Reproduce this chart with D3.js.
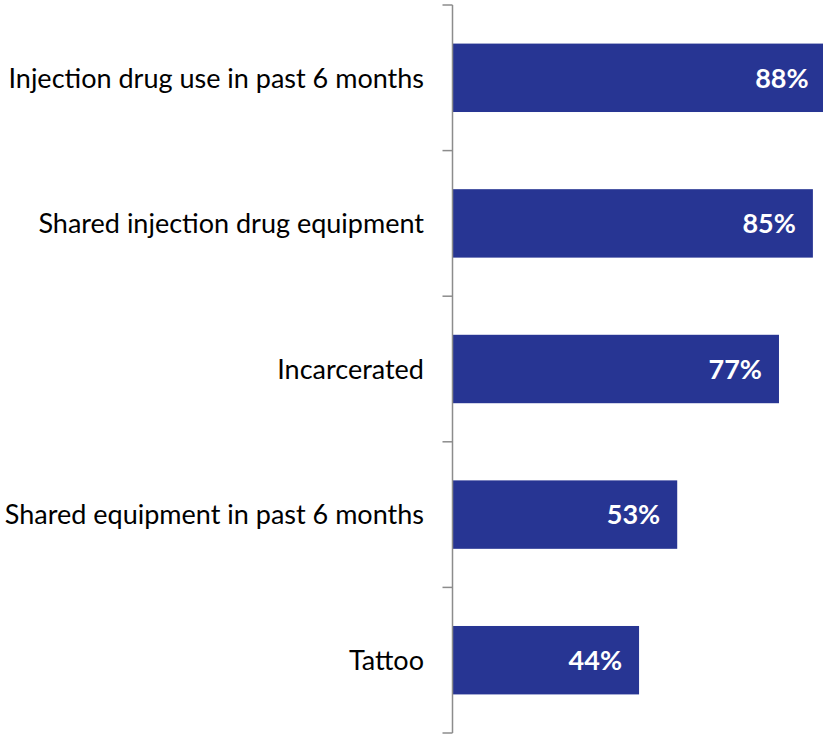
<!DOCTYPE html>
<html>
<head>
<meta charset="utf-8">
<script src="https://cdn.jsdelivr.net/npm/d3@7"></script>
<style>
  html, body { margin: 0; padding: 0; background: #fff; }
  svg { display: block; }
</style>
</head>
<body>
<svg id="chart" width="823" height="736"></svg>
<script>
// Risk factors and share of respondents (%)
const categories = [
  "Injection drug use in past 6 months",
  "Shared injection drug equipment",
  "Incarcerated",
  "Shared equipment in past 6 months",
  "Tattoo"
];
const values = [88, 85, 77, 53, 44];

const svg = d3.select("#chart");
const W = 823, H = 736;
const axisX = 452.5;

const y = d3.scaleBand()
  .domain(categories)
  .range([5, 733])
  .paddingInner(0.53)
  .paddingOuter(0.265);

const x = d3.scaleLinear()
  .domain([0, 100])
  .range([axisX, axisX + 424]);

// Bars
svg.append("g")
  .selectAll("rect")
  .data(categories)
  .join("rect")
  .attr("x", x(0))
  .attr("y", d => y(d))
  .attr("width", (d, i) => x(values[i]) - x(0))
  .attr("height", y.bandwidth())
  .attr("fill", "#273593");

// Value labels inside the bar ends
svg.append("g")
  .selectAll("text")
  .data(categories)
  .join("text")
  .attr("x", (d, i) => x(values[i]) - 17)
  .attr("y", d => y(d) + y.bandwidth() / 2)
  .attr("dy", "0.36em")
  .attr("text-anchor", "end")
  .attr("fill", "#ffffff")
  .style("font-family", "Lato, 'Open Sans', sans-serif")
  .style("font-weight", "bold")
  .style("font-size", "27px")
  .text((d, i) => values[i] + "%");

// Category axis with ticks at band boundaries
const step = y.step();
const boundaries = d3.range(categories.length + 1).map(i => 5 + i * step);
const axisG = svg.append("g");
axisG.append("line")
  .attr("x1", axisX).attr("x2", axisX)
  .attr("y1", boundaries[0]).attr("y2", boundaries[boundaries.length - 1])
  .attr("stroke", "#8c8c8c").attr("stroke-width", 1.5);
axisG.selectAll("line.tick")
  .data(boundaries)
  .join("line")
  .attr("class", "tick")
  .attr("x1", axisX - 10).attr("x2", axisX)
  .attr("y1", d => d).attr("y2", d => d)
  .attr("stroke", "#8c8c8c").attr("stroke-width", 1.5);

// Category labels
svg.append("g")
  .selectAll("text")
  .data(categories)
  .join("text")
  .attr("x", 424)
  .attr("y", d => y(d) + y.bandwidth() / 2)
  .attr("dy", "0.36em")
  .attr("text-anchor", "end")
  .attr("fill", "#000000")
  .style("font-family", "Lato, 'Open Sans', sans-serif")
  .style("font-size", "27px")
  .text(d => d);
</script>
</body>
</html>
